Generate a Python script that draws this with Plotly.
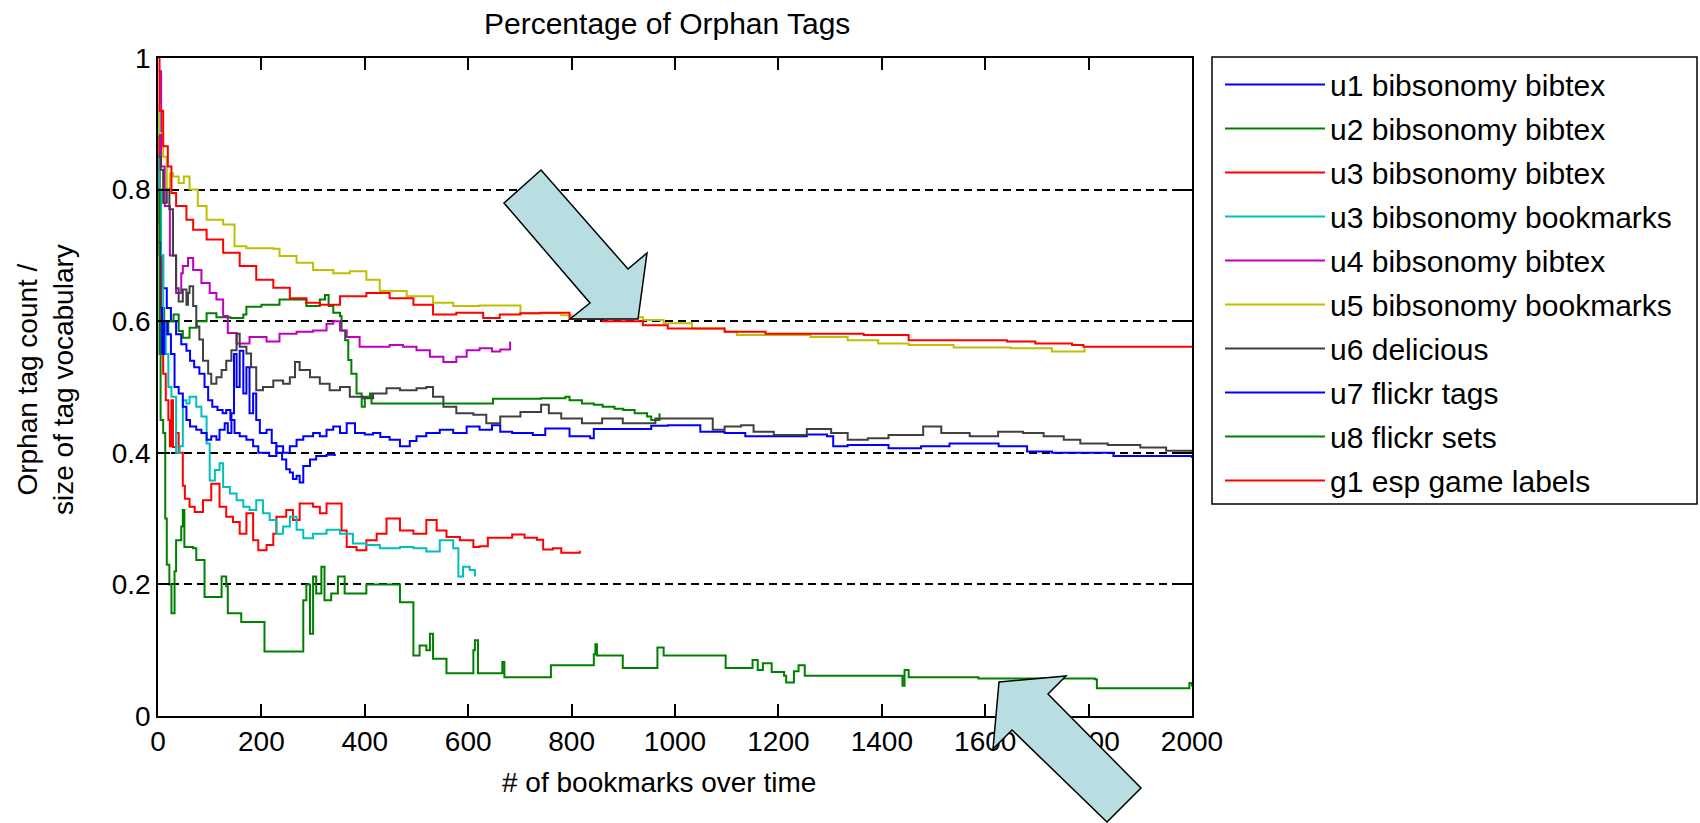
import plotly.graph_objects as go

# ---------------- data ----------------
series_names = ["u1 bibsonomy bibtex", "u2 bibsonomy bibtex", "u3 bibsonomy bibtex",
                "u3 bibsonomy bookmarks", "u4 bibsonomy bibtex", "u5 bibsonomy bookmarks",
                "u6 delicious", "u7 flickr tags", "u8 flickr sets", "g1 esp game labels"]
series_colors = ["#0000FF", "#008000", "#FF0000", "#00BFBF", "#BF00BF", "#BFBF00",
                 "#404040", "#0000FF", "#008000", "#FF0000"]

u1_x = [1, 5, 10, 17, 25, 35, 45, 55, 62, 70, 80, 90, 97, 105, 115, 125, 132, 140, 148, 158,
        171, 184, 194, 203, 215, 229, 242, 255, 268, 281, 300, 313, 326, 339, 352, 365, 381,
        400, 416, 430, 448, 468, 487, 500, 519, 545, 571, 597, 622, 646, 662, 685, 725, 749,
        796, 836, 843, 923, 954, 986, 1049, 1096, 1136, 1255, 1294, 1306, 1334, 1413, 1476,
        1531, 1626, 1681, 1729, 1808, 1848, 1920, 2000]
u1_y = [0.75, 0.70, 0.65, 0.62, 0.60, 0.58, 0.565, 0.555, 0.54, 0.53, 0.52, 0.50, 0.48, 0.47,
        0.465, 0.46, 0.465, 0.45, 0.43, 0.425, 0.42, 0.41, 0.40, 0.40, 0.395, 0.41, 0.40, 0.41,
        0.42, 0.425, 0.43, 0.425, 0.435, 0.44, 0.43, 0.445, 0.43, 0.428, 0.43, 0.424, 0.42,
        0.41, 0.418, 0.425, 0.43, 0.435, 0.43, 0.44, 0.435, 0.442, 0.432, 0.43, 0.427, 0.437,
        0.425, 0.422, 0.436, 0.436, 0.441, 0.442, 0.432, 0.43, 0.425, 0.428, 0.425, 0.41,
        0.412, 0.407, 0.41, 0.414, 0.41, 0.402, 0.40, 0.40, 0.395, 0.395, 0.392]

u2_x = [1, 3, 5, 8, 12, 20, 30, 40, 48, 61, 75, 94, 113, 140, 165, 171, 200, 229, 235, 287,
        313, 323, 330, 339, 352, 355, 362, 368, 374, 384, 394, 400, 410, 413, 629, 648, 741,
        788, 796, 820, 843, 860, 883, 900, 922, 946, 954, 970]
u2_y = [0.92, 0.75, 0.55, 0.62, 0.58, 0.60, 0.61, 0.585, 0.575, 0.59, 0.60, 0.612, 0.606,
        0.605, 0.61, 0.622, 0.625, 0.625, 0.633, 0.623, 0.633, 0.64, 0.623, 0.613, 0.608,
        0.586, 0.571, 0.541, 0.52, 0.49, 0.47, 0.485, 0.49, 0.475, 0.475, 0.482, 0.483, 0.485,
        0.48, 0.475, 0.473, 0.47, 0.467, 0.465, 0.46, 0.455, 0.45, 0.46]

u3b_x = [1, 3, 6, 10, 15, 20, 23, 26, 29, 35, 40, 48, 52, 61, 71, 87, 103, 119, 132, 145,
         158, 171, 184, 194, 210, 223, 229, 248, 261, 274, 300, 313, 326, 348, 355, 365, 384,
         403, 423, 442, 468, 494, 519, 539, 558, 584, 610, 622, 638, 685, 709, 733, 745, 764,
         780, 816]
u3b_y = [0.88, 0.70, 0.60, 0.52, 0.48, 0.45, 0.41, 0.48, 0.409, 0.43, 0.40, 0.35, 0.33, 0.318,
         0.31, 0.328, 0.353, 0.318, 0.303, 0.295, 0.277, 0.308, 0.267, 0.252, 0.26, 0.277,
         0.303, 0.313, 0.298, 0.323, 0.318, 0.308, 0.323, 0.323, 0.282, 0.257, 0.252, 0.267,
         0.277, 0.30, 0.282, 0.277, 0.298, 0.282, 0.272, 0.267, 0.257, 0.258, 0.271, 0.276,
         0.271, 0.268, 0.253, 0.255, 0.248, 0.251]

u3m_x = [1, 3, 6, 10, 15, 20, 26, 35, 42, 48, 55, 61, 74, 84, 94, 100, 110, 119, 126, 139,
         152, 165, 177, 190, 203, 216, 229, 242, 255, 268, 281, 300, 326, 352, 377, 403, 429,
         468, 494, 519, 545, 571, 581, 590, 603, 613]
u3m_y = [0.85, 0.80, 0.70, 0.60, 0.55, 0.50, 0.485, 0.40, 0.41, 0.48, 0.475, 0.485, 0.47,
         0.455, 0.414, 0.358, 0.374, 0.384, 0.348, 0.338, 0.328, 0.318, 0.313, 0.328, 0.308,
         0.298, 0.277, 0.288, 0.303, 0.283, 0.27, 0.277, 0.283, 0.277, 0.262, 0.26, 0.255,
         0.257, 0.255, 0.25, 0.267, 0.255, 0.212, 0.227, 0.222, 0.212]

u4_x = [1, 6, 13, 23, 35, 45, 48, 58, 68, 84, 100, 113, 126, 135, 152, 177, 210, 235, 268,
        300, 326, 339, 352, 365, 390, 448, 474, 500, 526, 552, 577, 597, 622, 646, 662, 681]
u4_y = [0.98, 0.835, 0.775, 0.70, 0.643, 0.673, 0.684, 0.696, 0.678, 0.658, 0.643, 0.633,
        0.608, 0.582, 0.566, 0.576, 0.569, 0.581, 0.584, 0.586, 0.596, 0.60, 0.586, 0.576,
        0.561, 0.564, 0.561, 0.556, 0.546, 0.538, 0.546, 0.556, 0.559, 0.554, 0.557, 0.569]

u5_x = [1, 3, 10, 17, 23, 29, 40, 50, 61, 77, 94, 126, 148, 171, 223, 235, 268, 300, 339,
        371, 403, 429, 481, 532, 571, 622, 677, 701, 780, 800, 938, 978, 1033, 1096, 1120,
        1262, 1334, 1393, 1452, 1539, 1650, 1729, 1792]
u5_y = [0.93, 0.886, 0.85, 0.80, 0.825, 0.82, 0.81, 0.82, 0.80, 0.775, 0.754, 0.747, 0.714,
        0.711, 0.71, 0.699, 0.689, 0.678, 0.673, 0.676, 0.663, 0.646, 0.638, 0.628, 0.623,
        0.624, 0.624, 0.612, 0.609, 0.606, 0.602, 0.597, 0.589, 0.584, 0.579, 0.576, 0.571,
        0.566, 0.564, 0.56, 0.559, 0.554, 0.559]

u6_x = [1, 5, 10, 17, 22, 29, 35, 40, 48, 55, 58, 61, 68, 74, 80, 87, 97, 103, 113, 123, 132,
        142, 152, 158, 171, 180, 190, 203, 223, 242, 255, 265, 274, 294, 313, 332, 352, 371,
        397, 416, 442, 468, 500, 519, 532, 552, 577, 610, 635, 662, 701, 741, 756, 780, 820,
        859, 899, 962, 1050, 1073, 1096, 1128, 1152, 1191, 1255, 1302, 1334, 1373, 1413, 1480,
        1515, 1570, 1625, 1673, 1713, 1752, 1784, 1837, 1900, 1950, 2000]
u6_y = [0.85, 0.83, 0.78, 0.80, 0.77, 0.70, 0.65, 0.63, 0.648, 0.625, 0.643, 0.653, 0.623,
        0.592, 0.572, 0.54, 0.52, 0.505, 0.515, 0.526, 0.54, 0.556, 0.581, 0.561, 0.551, 0.53,
        0.495, 0.50, 0.51, 0.505, 0.515, 0.538, 0.526, 0.515, 0.505, 0.495, 0.50, 0.485,
        0.483, 0.49, 0.498, 0.495, 0.498, 0.50, 0.485, 0.47, 0.46, 0.458, 0.445, 0.455, 0.462,
        0.473, 0.46, 0.452, 0.445, 0.452, 0.445, 0.452, 0.452, 0.435, 0.44, 0.442, 0.432,
        0.427, 0.436, 0.43, 0.42, 0.422, 0.427, 0.44, 0.43, 0.425, 0.432, 0.43, 0.425, 0.42,
        0.414, 0.412, 0.408, 0.403, 0.40]

u7_x = [1, 4, 8, 12, 18, 25, 32, 40, 48, 55, 62, 74, 84, 94, 103, 113, 119, 129, 135, 142,
        147, 152, 158, 165, 171, 177, 184, 190, 197, 210, 220, 229, 240, 248, 255, 261, 268,
        274, 281, 294, 306, 326, 342]
u7_y = [0.72, 0.62, 0.55, 0.60, 0.58, 0.55, 0.50, 0.49, 0.47, 0.45, 0.44, 0.435, 0.43, 0.42,
        0.425, 0.42, 0.435, 0.445, 0.43, 0.46, 0.55, 0.50, 0.555, 0.49, 0.53, 0.46, 0.49, 0.45,
        0.43, 0.435, 0.415, 0.40, 0.39, 0.375, 0.37, 0.36, 0.365, 0.355, 0.38, 0.39, 0.395,
        0.397, 0.395]

u8_x = [1, 3, 5, 10, 14, 17, 22, 26, 29, 32, 35, 42, 45, 48, 51, 68, 74, 87, 90, 120, 123,
        132, 135, 158, 161, 203, 206, 277, 281, 287, 294, 300, 306, 316, 322, 335, 348, 361,
        394, 403, 461, 468, 487, 494, 506, 519, 526, 532, 555, 558, 600, 610, 613, 619, 666,
        670, 757, 760, 840, 843, 846, 849, 895, 899, 962, 966, 978, 1096, 1098, 1144, 1150,
        1160, 1170, 1187, 1211, 1215, 1230, 1239, 1251, 1436, 1440, 1444, 1452, 1587, 1812,
        1816, 1990, 1995, 2000]
u8_y = [0.80, 0.55, 0.45, 0.43, 0.30, 0.23, 0.20, 0.156, 0.156, 0.22, 0.267, 0.267, 0.288,
        0.313, 0.257, 0.255, 0.237, 0.237, 0.181, 0.181, 0.212, 0.197, 0.156, 0.156, 0.143,
        0.143, 0.098, 0.098, 0.176, 0.20, 0.125, 0.212, 0.186, 0.227, 0.176, 0.186, 0.212,
        0.186, 0.186, 0.20, 0.20, 0.173, 0.173, 0.092, 0.107, 0.10, 0.125, 0.087, 0.087,
        0.065, 0.065, 0.10, 0.115, 0.065, 0.082, 0.059, 0.059, 0.077, 0.077, 0.094, 0.109,
        0.092, 0.092, 0.073, 0.073, 0.104, 0.092, 0.092, 0.073, 0.073, 0.085, 0.07, 0.08,
        0.067, 0.061, 0.051, 0.068, 0.077, 0.061, 0.061, 0.046, 0.07, 0.059, 0.057, 0.056,
        0.042, 0.042, 0.05, 0.045]

g1_x = [1, 3, 10, 19, 26, 35, 55, 68, 94, 126, 158, 190, 223, 255, 287, 313, 352, 403, 448,
        494, 532, 577, 629, 661, 701, 740, 796, 860, 938, 986, 1096, 1175, 1365, 1452, 1642,
        1697, 1768, 1790, 2000]
g1_y = [1.0, 0.92, 0.866, 0.835, 0.795, 0.775, 0.754, 0.739, 0.724, 0.704, 0.684, 0.663,
        0.651, 0.635, 0.628, 0.625, 0.638, 0.643, 0.635, 0.625, 0.61, 0.613, 0.605, 0.61,
        0.612, 0.613, 0.604, 0.60, 0.594, 0.589, 0.584, 0.581, 0.579, 0.571, 0.569, 0.566,
        0.564, 0.561, 0.56]

series_x = [u1_x, u2_x, u3b_x, u3m_x, u4_x, u5_x, u6_x, u7_x, u8_x, g1_x]
series_y = [u1_y, u2_y, u3b_y, u3m_y, u4_y, u5_y, u6_y, u7_y, u8_y, g1_y]

x_ticks = [0, 200, 400, 600, 800, 1000, 1200, 1400, 1600, 1800, 2000]
y_ticks = [0, 0.2, 0.4, 0.6, 0.8, 1]
y_tick_labels = ["0", "0.2", "0.4", "0.6", "0.8", "1"]

title_text = "Percentage of Orphan Tags"
x_title = "# of bookmarks over time"
y_title = "Orphan tag count /<br>size of tag vocabulary"

# ---------------- layout geometry (pixels) ----------------
W, H = 1700, 823
L, R, T, B = 158, 1192, 58, 716
FONT = "Liberation Sans, Arial, sans-serif"


def px(xp):
    return (xp - L) / (R - L)


def py(yp):
    return (B - yp) / (B - T)


def poly(points):
    return "M " + " L ".join(f"{px(a):.5f},{py(b):.5f}" for a, b in points) + " Z"


fig = go.Figure()
for i, name in enumerate(series_names):
    fig.add_trace(go.Scatter(
        x=series_x[i], y=series_y[i], mode="lines", name=name,
        line=dict(color=series_colors[i], width=2, shape="hv"),
        legendgroup=f"g{i}",
    ))

axis_common = dict(
    showline=True, linecolor="black", linewidth=1.5, mirror="ticks",
    ticks="inside", ticklen=12, tickwidth=1.5, tickcolor="black",
    tickfont=dict(family=FONT, size=28, color="black"), zeroline=False,
)
fig.update_xaxes(range=[0, 2000], tickvals=x_ticks, showgrid=False, **axis_common)
fig.update_yaxes(range=[0, 1], tickvals=y_ticks, ticktext=y_tick_labels,
                 showgrid=True, gridcolor="black", gridwidth=1.6, griddash="8px,5px",
                 **axis_common)

arrow1 = [(504, 203), (541, 170), (628, 269), (647, 253), (638, 319), (570, 319), (590, 303)]
arrow2 = [(999, 682), (1066, 676), (1048, 694), (1141, 788), (1107, 822), (1012, 730), (993, 749)]
shapes = [
    # legend frame
    dict(type="rect", xref="paper", yref="paper", x0=px(1212), x1=px(1697),
         y0=py(504), y1=py(57), line=dict(color="black", width=1.5), fillcolor="rgba(0,0,0,0)",
         layer="above"),
]
for pts in (arrow1, arrow2):
    shapes.append(dict(type="path", xref="paper", yref="paper", path=poly(pts),
                       fillcolor="#B9DEE2", line=dict(color="black", width=1.5), layer="above"))

annotations = [
    dict(text=title_text, x=px(667), y=py(24), xref="paper", yref="paper", showarrow=False,
         xanchor="center", yanchor="middle", font=dict(family=FONT, size=30, color="black")),
    dict(text=x_title, x=px(659), y=py(782), xref="paper", yref="paper", showarrow=False,
         xanchor="center", yanchor="middle", font=dict(family=FONT, size=28, color="black")),
    dict(text=y_title, x=px(45), y=py(380), xref="paper", yref="paper", showarrow=False,
         textangle=-90, xanchor="center", yanchor="middle",
         font=dict(family=FONT, size=28, color="black")),
]

fig.update_layout(
    width=W, height=H,
    margin=dict(l=L, r=W - R, t=T, b=H - B, pad=0),
    paper_bgcolor="white", plot_bgcolor="white",
    showlegend=True,
    legend=dict(x=px(1220), y=py(58.5), xanchor="left", yanchor="top",
                borderwidth=0, bgcolor="rgba(0,0,0,0)",
                font=dict(family=FONT, size=30, color="black"),
                itemwidth=100, tracegroupgap=2, traceorder="grouped"),
    shapes=shapes, annotations=annotations,
)

fig.write_html("out.html")
